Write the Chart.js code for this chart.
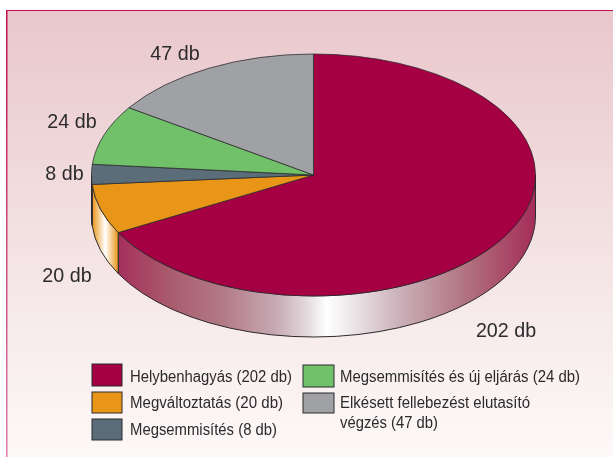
<!DOCTYPE html>
<html><head><meta charset="utf-8">
<style>html,body{margin:0;padding:0;background:#fff;overflow:hidden}canvas{display:block}</style>
<script src="https://cdn.jsdelivr.net/npm/chart.js@4"></script>
</head><body><canvas id="c" width="613" height="457"></canvas>
<script>
const categories = ["Helybenhagyás","Megváltoztatás","Megsemmisítés","Megsemmisítés és új eljárás","Elkésett fellebezést elutasító végzés"];
const values = [202,20,8,24,47];
const colors = ["#a50044","#e99517","#5a6d79","#71c06a","#a0a1a5"];
const valueLabels = ["202 db","20 db","8 db","24 db","47 db"];
const legendLines = [["Helybenhagyás (202 db)"],["Megváltoztatás (20 db)"],["Megsemmisítés (8 db)"],["Megsemmisítés és új eljárás (24 db)"],["Elkésett fellebezést elutasító","végzés (47 db)"]];

const CY = 175, RY = 121, DEPTH = 41, INK = "#2b2a2c";
const labelPos = [[506,332],[67,277],[64.5,175],[72,123],[175,55]];
// swatch x, y, width, height / text x, baseline-middle y per line, fitted widths
const legendBox = [[92,364,30,22],[92,392,30,21],[92,419,30,21],[303,365,31,22],[303,393,31,20]];
const legendText = [[130,[377.5]],[130,[404]],[130,[431]],[340,[378]],[340,[404,424]]];
const legendFit = [[162],[153],[147],[240],[190,98]];

function squash(ctx, a, dy){
  ctx.translate(0, CY + (dy||0));
  ctx.scale(1, RY / a.outerRadius);
  ctx.translate(0, -a.y);
}
const panel = {
  id:"panel",
  beforeDraw(chart){
    const c = chart.ctx;
    const g = c.createLinearGradient(0,10,0,457);
    g.addColorStop(0,"#e9c7cb"); g.addColorStop(.5,"#f3e1e2"); g.addColorStop(1,"#fdf9f8");
    c.save();
    c.fillStyle = g; c.fillRect(6,10,607,447);
    c.fillStyle = "#bd0f50"; c.fillRect(6,10,607,1);
    const e = c.createLinearGradient(0,10,0,457);
    e.addColorStop(0,"#bd0f50"); e.addColorStop(1,"#d77fa8");
    c.fillStyle = e; c.fillRect(6,10,1.5,447);
    c.restore();
  }
};
const wall = {
  id:"wall",
  beforeDatasetsDraw(chart){
    const c = chart.ctx, arcs = chart.getDatasetMeta(0).data;
    const TAU = Math.PI*2;
    arcs.forEach((a,i)=>{
      let from = null, to = null;
      for (const k of [0,TAU,-TAU]) {
        const f = Math.max(a.startAngle, k), t = Math.min(a.endAngle, k+Math.PI);
        if (t > f) { from = f; to = t; break; }
      }
      if (from === null) return;
      const x0 = a.x + a.outerRadius*Math.cos(to), x1 = a.x + a.outerRadius*Math.cos(from);
      const g = c.createLinearGradient(x0,0,x1,0);
      if (i === 0) {
        [[0,"#a42f5c"],[.12,"#a95a6c"],[.25,"#b27a85"],[.38,"#c8abb5"],[.45,"#e2d8dc"],[.5,"#ffffff"],[.56,"#ece6e9"],[.68,"#c9aeb6"],[.84,"#b0707e"],[1,"#a52c58"]]
          .forEach(p=>g.addColorStop(p[0],p[1]));
      } else {
        g.addColorStop(0,colors[i]); g.addColorStop(.5,"#ffffff"); g.addColorStop(1,colors[i]);
      }
      c.save();
      c.beginPath();
      c.save(); squash(c,a); c.arc(a.x,a.y,a.outerRadius,from,to,false); c.restore();
      c.save(); squash(c,a,DEPTH); c.arc(a.x,a.y,a.outerRadius,to,from,true); c.restore();
      c.closePath();
      c.fillStyle = g; c.fill();
      c.strokeStyle = INK; c.lineWidth = 1; c.stroke();
      c.restore();
    });
    c.save();
    squash(c, arcs[0]);
  },
  afterDatasetsDraw(chart){
    const c = chart.ctx;
    c.restore();
    c.save();
    c.fillStyle = INK; c.textBaseline = "middle"; c.textAlign = "center";
    c.font = "19.7px 'Liberation Sans'";
    valueLabels.forEach((t,i)=>c.fillText(t,labelPos[i][0],labelPos[i][1]));
    c.textAlign = "left";
    c.font = "16px 'Liberation Sans'";
    legendLines.forEach((lines,i)=>{
      const [x,y,w,h] = legendBox[i];
      c.fillStyle = colors[i];
      c.fillRect(x,y,w,h);
      c.strokeStyle = INK; c.lineWidth = 1;
      c.strokeRect(x,y,w,h);
      c.fillStyle = INK;
      lines.forEach((l,j)=>c.fillText(l,legendText[i][0],legendText[i][1][j],legendFit[i][j]));
    });
    c.restore();
  }
};
new Chart(document.getElementById("c"),{
  type:"pie",
  data:{labels:categories,datasets:[{data:values,backgroundColor:colors,borderColor:INK,borderWidth:1,borderJoinStyle:"miter"}]},
  options:{
    responsive:false,animation:false,
    layout:{padding:{left:91,right:77,top:6,bottom:6}},
    plugins:{legend:{display:false},tooltip:{enabled:false}}
  },
  plugins:[panel,wall]
});
</script></body></html>
